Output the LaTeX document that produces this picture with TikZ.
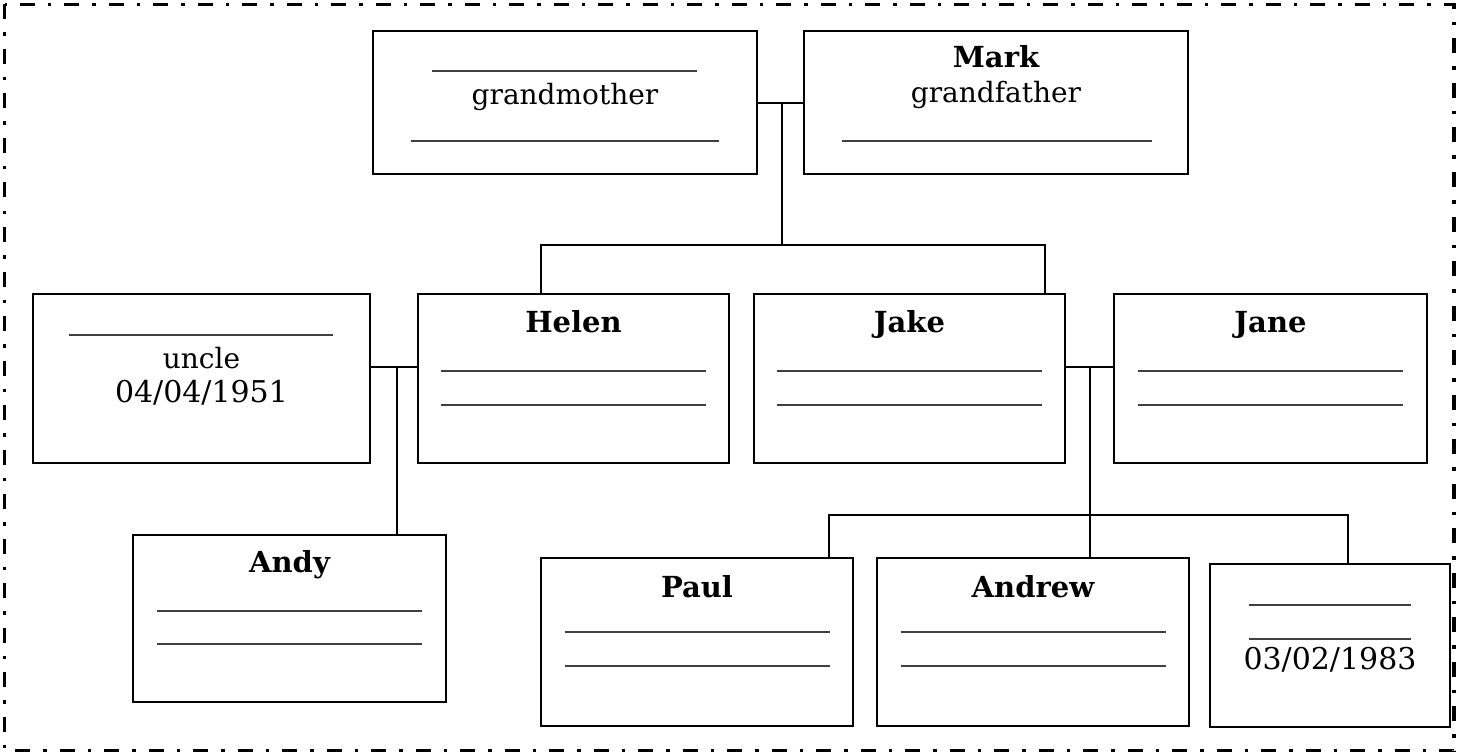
\documentclass[tikz,border=0pt]{standalone}
\usepackage{fontspec}
\setmainfont{DejaVu Serif}
\begin{document}
\begin{tikzpicture}[x=1pt,y=-1pt,
  famboxst/.style={draw, line width=2pt, inner sep=0pt},
  connst/.style={line width=1.6pt},
  blankst/.style={line width=1.5pt, draw=black!75},
  txtst/.style={anchor=base, inner sep=0pt, font=\fontsize{28}{34}\selectfont},
  datest/.style={anchor=base, inner sep=0pt, font=\fontsize{30}{36}\selectfont},
  namest/.style={anchor=base, inner sep=0pt, font=\fontsize{29}{34}\selectfont\bfseries},
  outerst/.style={line width=3.3pt, dash pattern=on 15pt off 13pt on 3.5pt off 13pt}]
\useasboundingbox (0,0) rectangle (1458,754);
\draw[outerst] (4.5,4.5) rectangle (1454,750.5);
% boxes
\node[famboxst, minimum width=384, minimum height=143] (gm) at (565,102.5) {};
\node[famboxst, minimum width=384, minimum height=143] (mark) at (996,102.5) {};
\node[famboxst, minimum width=337, minimum height=169] (uncle) at (201.5,378.5) {};
\node[famboxst, minimum width=311, minimum height=169] (helen) at (573.5,378.5) {};
\node[famboxst, minimum width=311, minimum height=169] (jake) at (909.5,378.5) {};
\node[famboxst, minimum width=313, minimum height=169] (jane) at (1270.5,378.5) {};
\node[famboxst, minimum width=313, minimum height=167] (andy) at (289.5,618.5) {};
\node[famboxst, minimum width=312, minimum height=168] (paul) at (697,642) {};
\node[famboxst, minimum width=312, minimum height=168] (andrew) at (1033,642) {};
\node[famboxst, minimum width=240, minimum height=163] (last) at (1330,645.5) {};
% texts
\draw[blankst] (432,71) -- (697,71);
\node[txtst] (gmt) at (565,105) {grandmother};
\draw[blankst] (411,141) -- (719,141);
\node[namest] (markn) at (996,68) {Mark};
\node[txtst] (markt) at (996,103) {grandfather};
\draw[blankst] (842,141) -- (1152,141);
\draw[blankst] (69,335) -- (333,335);
\node[txtst] (unclet) at (201.5,368) {uncle};
\node[datest] (uncled) at (201.5,402) {04/04/1951};
\node[namest] (helenn) at (573.5,332) {Helen};
\draw[blankst] (441,371) -- (706,371);
\draw[blankst] (441,405) -- (706,405);
\node[namest] (jaken) at (909.5,332) {Jake};
\draw[blankst] (777,371) -- (1042,371);
\draw[blankst] (777,405) -- (1042,405);
\node[namest] (janen) at (1270.5,332) {Jane};
\draw[blankst] (1138,371) -- (1403,371);
\draw[blankst] (1138,405) -- (1403,405);
\node[namest] (andyn) at (289.5,572) {Andy};
\draw[blankst] (157,611) -- (422,611);
\draw[blankst] (157,644) -- (422,644);
\node[namest] (pauln) at (697,597) {Paul};
\draw[blankst] (564.5,632) -- (829.5,632);
\draw[blankst] (564.5,666) -- (829.5,666);
\node[namest] (andrewn) at (1033,597) {Andrew};
\draw[blankst] (900.5,632) -- (1165.5,632);
\draw[blankst] (900.5,666) -- (1165.5,666);
\draw[blankst] (1249,605) -- (1411,605);
\draw[blankst] (1249,639) -- (1411,639);
\node[datest] (lastd) at (1330,669) {03/02/1983};
% connectors
\coordinate (m1) at (782,103);
\coordinate (sibL) at (541,245);
\coordinate (sibR) at (1045,245);
\draw[connst] (gm.east |- m1) -- (mark.west |- m1);
\draw[connst] (m1) -- (m1 |- sibL);
\draw[connst] (sibL |- helen.north) -- (sibL) -- (sibR) -- (sibR |- jake.north);
\coordinate (u1) at (397,367);
\draw[connst] (uncle.east |- u1) -- (helen.west |- u1);
\draw[connst] (u1) -- (u1 |- andy.north);
\coordinate (j1) at (1090,367);
\coordinate (kidL) at (829,515);
\coordinate (kidR) at (1348,515);
\draw[connst] (jake.east |- j1) -- (jane.west |- j1);
\draw[connst] (j1) -- (j1 |- andrew.north);
\draw[connst] (kidL |- paul.north) -- (kidL) -- (kidR) -- (kidR |- last.north);
\end{tikzpicture}
\end{document}
